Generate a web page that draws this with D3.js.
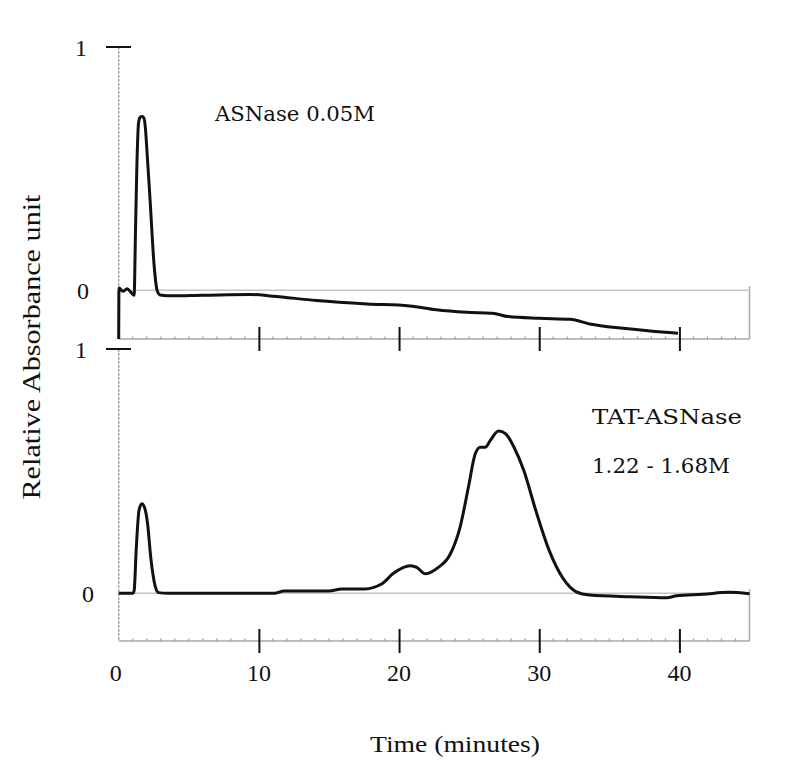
<!DOCTYPE html>
<html>
    <head>
        <meta charset="utf-8" />
        <script src="https://d3js.org/d3.v7.min.js"></script>
        <style>
            body {
                margin: 0;
                background: #fff;
            }

            .frame {
                stroke: #a8a8a8;
                stroke-width: 1.5px;
                fill: none;
            }

            .zero {
                stroke: #c4c4c4;
                stroke-width: 1.5px;
            }

            .trace {
                fill: none;
                stroke: #111;
                stroke-width: 3px;
                stroke-linejoin: round;
            }

            text {
                fill: #111;
            }
        </style>
    </head>
    <body>
        <svg id="chart" width="785" height="772"></svg>
        <script>
            var svg = d3.select("#chart");

            // time axis (minutes)
            var xTicks = [10, 20, 30, 40];
            var xLabels = [0, 10, 20, 30, 40];
            var yTicks = [0, 1];

            // ASNase 0.05M trace
            var topTime = [0, 0.02, 0.3, 0.6, 0.9, 1.1, 1.2, 1.3, 1.42, 1.55, 1.65,
                1.78, 1.9, 2.03, 2.24, 2.53, 2.74, 2.95, 3.5, 6, 9.4,
                11, 14.1, 17.7, 20.75, 22.65, 24.8, 26.65, 27.8, 30, 32.2,
                33.6, 36, 37.9, 39.9];
            var topAbs = [-0.2, 0.01, -0.004, 0.006, -0.01, -0.02, 0.25, 0.52, 0.69, 0.712, 0.714,
                0.71, 0.67, 0.56, 0.37, 0.1, 0, -0.019, -0.022, -0.02, -0.017,
                -0.024, -0.042, -0.056, -0.064, -0.08, -0.09, -0.094, -0.108, -0.115, -0.119,
                -0.138, -0.156, -0.167, -0.176];

            // TAT-ASNase 1.22 - 1.68M trace
            var botTime = [0, 1.0, 1.1, 1.25, 1.45, 1.65, 1.85, 2.05, 2.3, 2.6, 2.85,
                3.5, 8, 11.1, 11.8, 15, 15.9, 17.55, 18.75, 19.6, 20.8,
                21.27, 21.87, 22.8, 23.65, 24.35, 24.95, 25.43, 25.8, 26.15, 26.5,
                27.1, 27.6, 28.2, 28.9, 29.75, 30.7, 31.7, 32.65, 33.6, 36.5,
                39.1, 39.8, 41.7, 43.5, 45];
            var botAbs = [0, 0, 0.01, 0.18, 0.34, 0.367, 0.35, 0.29, 0.14, 0.03, 0.003,
                0, 0, 0, 0.01, 0.01, 0.018, 0.018, 0.038, 0.082, 0.113,
                0.106, 0.08, 0.106, 0.16, 0.27, 0.435, 0.57, 0.598, 0.598, 0.625,
                0.664, 0.653, 0.598, 0.503, 0.34, 0.177, 0.061, 0.006, -0.007, -0.014,
                -0.018, -0.01, -0.004, 0.004, -0.002];

            var x = d3.scaleLinear().domain([0, 45]).range([118.7, 749.5]);

            var panels = [
                { time: topTime, abs: topAbs, y: d3.scaleLinear().domain([-0.2, 1]).range([339, 47]),
                  label: ["ASNase 0.05M"], lx: 215, ly: [121], lw: [160] },
                { time: botTime, abs: botAbs, y: d3.scaleLinear().domain([-0.195, 1]).range([641, 349]),
                  label: ["TAT-ASNase", "1.22 - 1.68M"], lx: 592, ly: [424, 473], lw: [150, 138] }
            ];

            panels.forEach(function(p, pi) {
                var g = svg.append("g");
                var y = p.y;
                var base = y.range()[0];

                // left axis
                g.append("line").attr("class", "frame")
                    .attr("x1", x(0)).attr("x2", x(0))
                    .attr("y1", y(1)).attr("y2", base)
                    .attr("stroke-dasharray", "3,1");

                // right edge below zero
                g.append("line").attr("class", "frame")
                    .attr("x1", x(45)).attr("x2", x(45))
                    .attr("y1", y(0) - 4).attr("y2", base);

                // zero line
                g.append("line").attr("class", "zero")
                    .attr("x1", x(0)).attr("x2", x(45))
                    .attr("y1", y(0)).attr("y2", y(0));

                // bottom axis with minor ticks
                g.append("line").attr("class", "frame")
                    .attr("x1", x(0)).attr("x2", x(45))
                    .attr("y1", base).attr("y2", base);

                g.selectAll(".minor")
                    .data(d3.range(1, 45))
                    .enter().append("line")
                    .attr("class", "minor")
                    .attr("x1", function(d) { return x(d); })
                    .attr("x2", function(d) { return x(d); })
                    .attr("y1", base - 2.5).attr("y2", base)
                    .attr("stroke", "#999")
                    .attr("stroke-width", 1.2);

                // major ticks crossing the axis
                var axis = d3.axisBottom(x).tickValues(xTicks).tickSize(12).tickFormat("");
                var ag = g.append("g").attr("transform", "translate(0," + base + ")").call(axis);
                ag.select(".domain").remove();
                ag.selectAll(".tick line")
                    .attr("y1", -12)
                    .attr("stroke", "#111")
                    .attr("stroke-width", 2);

                // tick at 1 on y
                g.append("line")
                    .attr("x1", 106).attr("x2", 131)
                    .attr("y1", y(1)).attr("y2", y(1))
                    .attr("stroke", "#111").attr("stroke-width", 2);

                g.selectAll(".ylab")
                    .data(yTicks)
                    .enter().append("text")
                    .attr("class", "ylab")
                    .attr("x", function(d) { return d === 0 ? (pi ? 88 : 83) : 81; })
                    .attr("y", function(d) { return y(d); })
                    .attr("dy", "0.36em")
                    .attr("text-anchor", "middle")
                    .attr("font-family", "Liberation Serif")
                    .attr("font-size", 24)
                    .text(function(d) { return d; });

                // trace
                var pts = p.time.map(function(t, i) { return [t, p.abs[i]]; });
                var line = d3.line()
                    .x(function(d) { return x(d[0]); })
                    .y(function(d) { return y(d[1]); })
                    .curve(d3.curveMonotoneX);

                g.append("path")
                    .datum(pts)
                    .attr("class", "trace")
                    .attr("d", line);

                // annotation
                p.label.forEach(function(s, i) {
                    g.append("text")
                        .attr("x", p.lx)
                        .attr("y", p.ly[i])
                        .attr("font-family", "DejaVu Serif")
                        .attr("font-size", 21)
                        .attr("textLength", p.lw[i])
                        .attr("lengthAdjust", "spacingAndGlyphs")
                        .text(s);
                });
            });

            // x tick labels
            svg.selectAll(".xlab")
                .data(xLabels)
                .enter().append("text")
                .attr("class", "xlab")
                .attr("x", function(d) { return x(d) - (d === 0 ? 3 : 0); })
                .attr("y", 681)
                .attr("text-anchor", "middle")
                .attr("font-family", "Liberation Serif")
                .attr("font-size", 24)
                .text(function(d) { return d; });

            svg.append("text")
                .attr("x", 455)
                .attr("y", 752)
                .attr("text-anchor", "middle")
                .attr("font-family", "Liberation Serif")
                .attr("font-size", 24)
                .attr("textLength", 170)
                .attr("lengthAdjust", "spacingAndGlyphs")
                .text("Time (minutes)");

            svg.append("text")
                .attr("transform", "translate(40,347) rotate(-90)")
                .attr("text-anchor", "middle")
                .attr("font-family", "Liberation Serif")
                .attr("font-size", 25)
                .attr("textLength", 305)
                .attr("lengthAdjust", "spacingAndGlyphs")
                .text("Relative Absorbance unit");
        </script>
    </body>
</html>
